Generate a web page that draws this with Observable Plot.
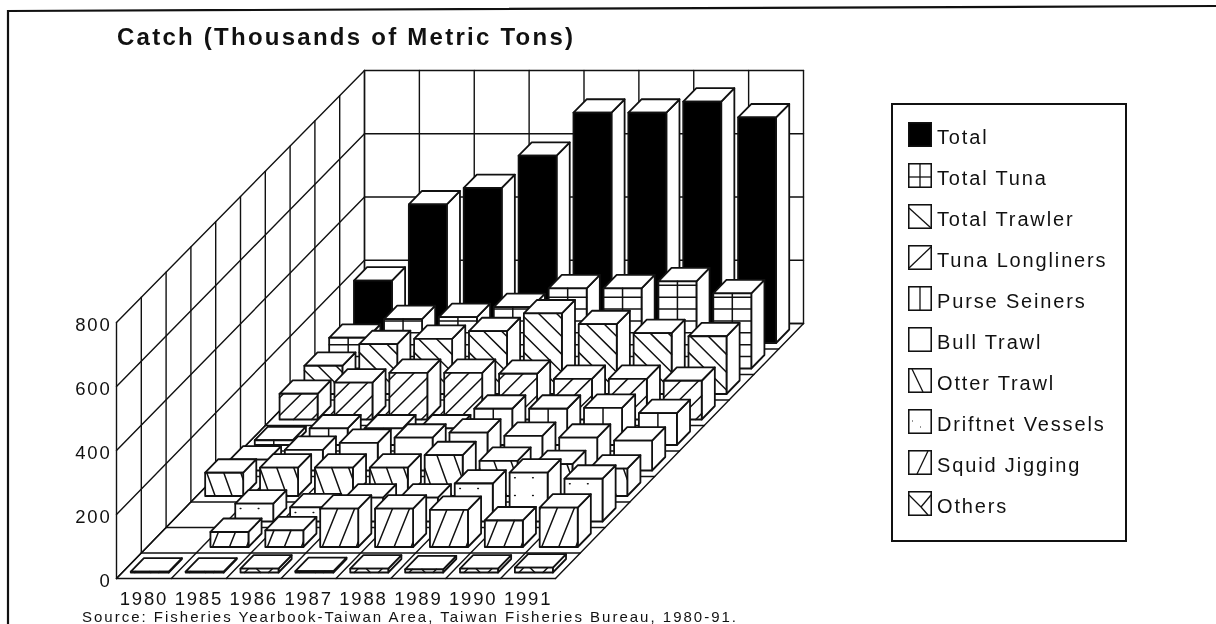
<!DOCTYPE html>
<html><head><meta charset="utf-8">
<script src="https://cdn.jsdelivr.net/npm/d3@7"></script>
<script src="https://cdn.jsdelivr.net/npm/@observablehq/plot@0.6"></script>
<style>
html,body{margin:0;padding:0;background:#fff}
#page{position:relative;width:1216px;height:624px;overflow:hidden;font-family:"Liberation Sans",sans-serif;color:#111;filter:blur(.4px)}
#frame{position:absolute;left:0;top:0}
#title{position:absolute;left:117px;top:23px;font-weight:bold;font-size:24px;letter-spacing:2.25px;white-space:nowrap}
#source{position:absolute;left:82px;top:610px;font-size:15px;line-height:13px;letter-spacing:2px;white-space:nowrap}
#legend{position:absolute;left:891px;top:103px;width:236px;height:439px;border:2px solid #111;box-sizing:border-box;background:#fff}
.row{position:absolute;left:15px;height:25px;display:flex;align-items:center;font-size:20px;letter-spacing:1.85px;white-space:nowrap}
.row span{position:relative;top:3px}
.row svg{margin-right:5px;display:block}
svg.chart{position:absolute;left:0;top:0;display:block}
</style></head><body>
<div id="page"><svg id="frame" width="1216" height="624"><polyline points="8,624 8,11 1216,6" fill="none" stroke="#111" stroke-width="2.2"/></svg><div id="chart"></div>
<div id="title">Catch (Thousands of Metric Tons)</div>
<div id="source">Source: Fisheries Yearbook-Taiwan Area, Taiwan Fisheries Bureau, 1980-91.</div>
<div id="legend"></div></div>
<script>
const years = [1980,1985,1986,1987,1988,1989,1990,1991];
const seriesNames = ["Total","Total Tuna","Total Trawler","Tuna Longliners","Purse Seiners","Bull Trawl","Otter Trawl","Driftnet Vessels","Squid Jigging","Others"];
const yTicks = [0,200,400,600,800];
const total        = [197,438,490,592,728,728,763,713];
const totalTuna    = [97,156,162,194,253,253,275,237];
const totalTrawler = [89,157,174,198,254,220,192,182];
const tunaLongliners = [81,116,147,147,144,128,128,122];
const purseSeiners = [15,52,52,52,114,114,117,100];
const bullTrawl    = [34,65,87,103,119,109,103,94];
const otterTrawl   = [73,89,89,89,128,110,100,86];
const driftnet     = [0,56,44,75,75,119,153,134];
const squidJigging = [0,47,52,120,120,116,83,123];
const others       = [3,3,12,4,12,10,12,15];
const seriesValues = [total,totalTuna,totalTrawler,tunaLongliners,purseSeiners,bullTrawl,otterTrawl,driftnet,squidJigging,others];
const hatchKinds = ["solid","grid","back","fwd","vert","none","otter","dots","squid","cross"];

// oblique 3-D projection into the chart's x (year units) and y (value units) scales
const slots = seriesNames.length;
const pxX = 439/8, pxY = 0.32;            // pixels per x unit, per value unit
const depthX = 248/pxX/slots, depthY = 255/pxY/slots;
const shrink = 0.0012;
const proj = (col, depth, v) => [col + depth*depthX, depth*depthY + v*(1 - shrink*depth)];
const barW = 38/pxX, barD = 13.5/25.5;

let rows = [], uid = 0;
function poly(pts, fill, sw){ const id = uid++; const closed = fill !== "none";
  (closed ? [...pts, pts[0]] : pts).forEach(p => rows.push({id, x:p[0], y:p[1], fill, sw})); }

function hatchLines(kind, w, h){ // in pixels on the bar's front face; returns [[x0,y0],[x1,y1]]
  const segs = [];
  const fam = (s, step, off=0) => {
    const lo = Math.min(0, -s*h), hi = Math.max(w, w - s*h);
    for (let c = off + Math.ceil((lo-off)/step)*step; c <= hi; c += step) {
      let t0 = 0, t1 = h;
      if (s > 0) { t0 = Math.max(0, -c/s); t1 = Math.min(h, (w-c)/s); }
      else if (s < 0) { t0 = Math.max(0, (w-c)/s); t1 = Math.min(h, -c/s); }
      else if (c < 0 || c > w) continue;
      if (t1 > t0) segs.push([[c+s*t0,t0],[c+s*t1,t1]]);
    }
  };
  if (kind==="grid"){ segs.push([[w/2,0],[w/2,h]]); for(let y=12;y<h;y+=12) segs.push([[0,y],[w,y]]); }
  if (kind==="vert") segs.push([[w/2,0],[w/2,h]]);
  if (kind==="back") fam(-1,18,6);
  if (kind==="fwd") fam(1,18,-4);
  if (kind==="otter") fam(-0.36,17,10);
  if (kind==="squid") fam(0.4,17,2);
  if (kind==="cross"){ fam(1,24,4); fam(-1,24,20); }
  if (kind==="dots"){ for(let y=h-5;y>0;y-=18) for(let x=5;x<w;x+=18) segs.push([[x,y],[x+.6,y]]); }
  return segs;
}

function bar(col, slot, v, kind){
  const x0 = col + (1-barW)/2, d0 = slot + (1-barD)/2, x1 = x0+barW, d1 = d0+barD;
  const sw = 1.8;
  // side, top, front
  poly([proj(x1,d0,0),proj(x1,d1,0),proj(x1,d1,v),proj(x1,d0,v)], "#fff", sw);
  poly([proj(x0,d0,v),proj(x1,d0,v),proj(x1,d1,v),proj(x0,d1,v)], "#fff", sw);
  poly([proj(x0,d0,0),proj(x1,d0,0),proj(x1,d0,v),proj(x0,d0,v)], kind==="solid"?"#000":"#fff", sw);
  const hPx = v*pxY;
  hatchLines(kind, barW*pxX, hPx).forEach(([a,b]) =>
    poly([proj(x0+a[0]/pxX,d0,a[1]/pxY),proj(x0+b[0]/pxX,d0,b[1]/pxY)], "none", 1.5));
}

// Grid of the box: back wall, left wall, floor
let grid = [], gid = 0;
const gl = (a,b) => { const id = gid++; grid.push({id,x:a[0],y:a[1]},{id,x:b[0],y:b[1]}); };
const cols = years.length;
yTicks.forEach(v => { gl(proj(0,0,v),proj(0,slots,v)); gl(proj(0,slots,v),proj(cols,slots,v)); });
for (let c=0;c<=cols;c++){ gl(proj(c,slots,0),proj(c,slots,800)); gl(proj(c,0,0),proj(c,slots,0)); }
for (let s=0;s<=slots;s++){ gl(proj(0,s,0),proj(0,s,800)); gl(proj(0,s,0),proj(cols,s,0)); }

// back to front
for (let s=slots-1;s>=0;s--){
  const idx = slots-1-s;
  years.forEach((y,c) => { const v = seriesValues[idx][c]; if (v>0) bar(c,s,v,hatchKinds[idx]); });
}

const chart = Plot.plot({
  width:1216, height:624,
  marginLeft:116, marginRight:661, marginTop:322, marginBottom:46,
  x:{domain:[0,cols]}, y:{domain:[0,800]},
  style:{background:"transparent",color:"#111",fontFamily:'"Liberation Sans",sans-serif',fontSize:"18.5px",letterSpacing:"1.8px",overflow:"visible"},
  marks:[
    Plot.line(grid,{x:"x",y:"y",z:"id",stroke:"#111",strokeWidth:1.4}),
    Plot.line(rows,{x:"x",y:"y",z:"id",fill:{value:"fill",scale:null},stroke:"#111",strokeWidth:{value:"sw",scale:null},strokeLinejoin:"round",strokeLinecap:"round"}),
    Plot.axisY({ticks:yTicks,tickSize:0,tickPadding:5,label:null,fontSize:18.5,dy:3}),
    Plot.axisX({ticks:years.map((y,i)=>i+.5),tickFormat:(d,i)=>String(years[i]),tickSize:0,tickPadding:13,label:null,fontSize:18.5})
  ]
});
chart.classList.add("chart");
document.getElementById("chart").append(chart);

// legend
const legend = d3.select("#legend");
seriesNames.forEach((n,i)=>{
  const row = legend.append("div").attr("class","row").style("top",(17+i*41)+"px");
  const s = row.append("svg").attr("width",24).attr("height",25);
  s.append("rect").attr("x",.75).attr("y",.75).attr("width",22.5).attr("height",23.5).attr("fill",hatchKinds[i]==="solid"?"#000":"#fff").attr("stroke","#111").attr("stroke-width",1.6);
  const l=(a,b,c,d)=>s.append("line").attr("x1",a).attr("y1",b).attr("x2",c).attr("y2",d).attr("stroke","#111").attr("stroke-width",1.3);
  const k=hatchKinds[i];
  if(k==="grid"){l(12,1,12,24);l(1,14,23,14);}
  if(k==="vert")l(12,1,12,24);
  if(k==="back")l(1,4,23,24);
  if(k==="fwd")l(1,23,23,2);
  if(k==="otter")l(4,1,15,24);
  if(k==="squid")l(9,24,20,1);
  if(k==="cross"){l(1,4,13,16);l(23,4,13,16);l(13,16,20,24);}
  if(k==="dots"){l(4,12,4.6,12);l(12,18,12.6,18);}
  row.append("span").text(n);
});
</script></body></html>
